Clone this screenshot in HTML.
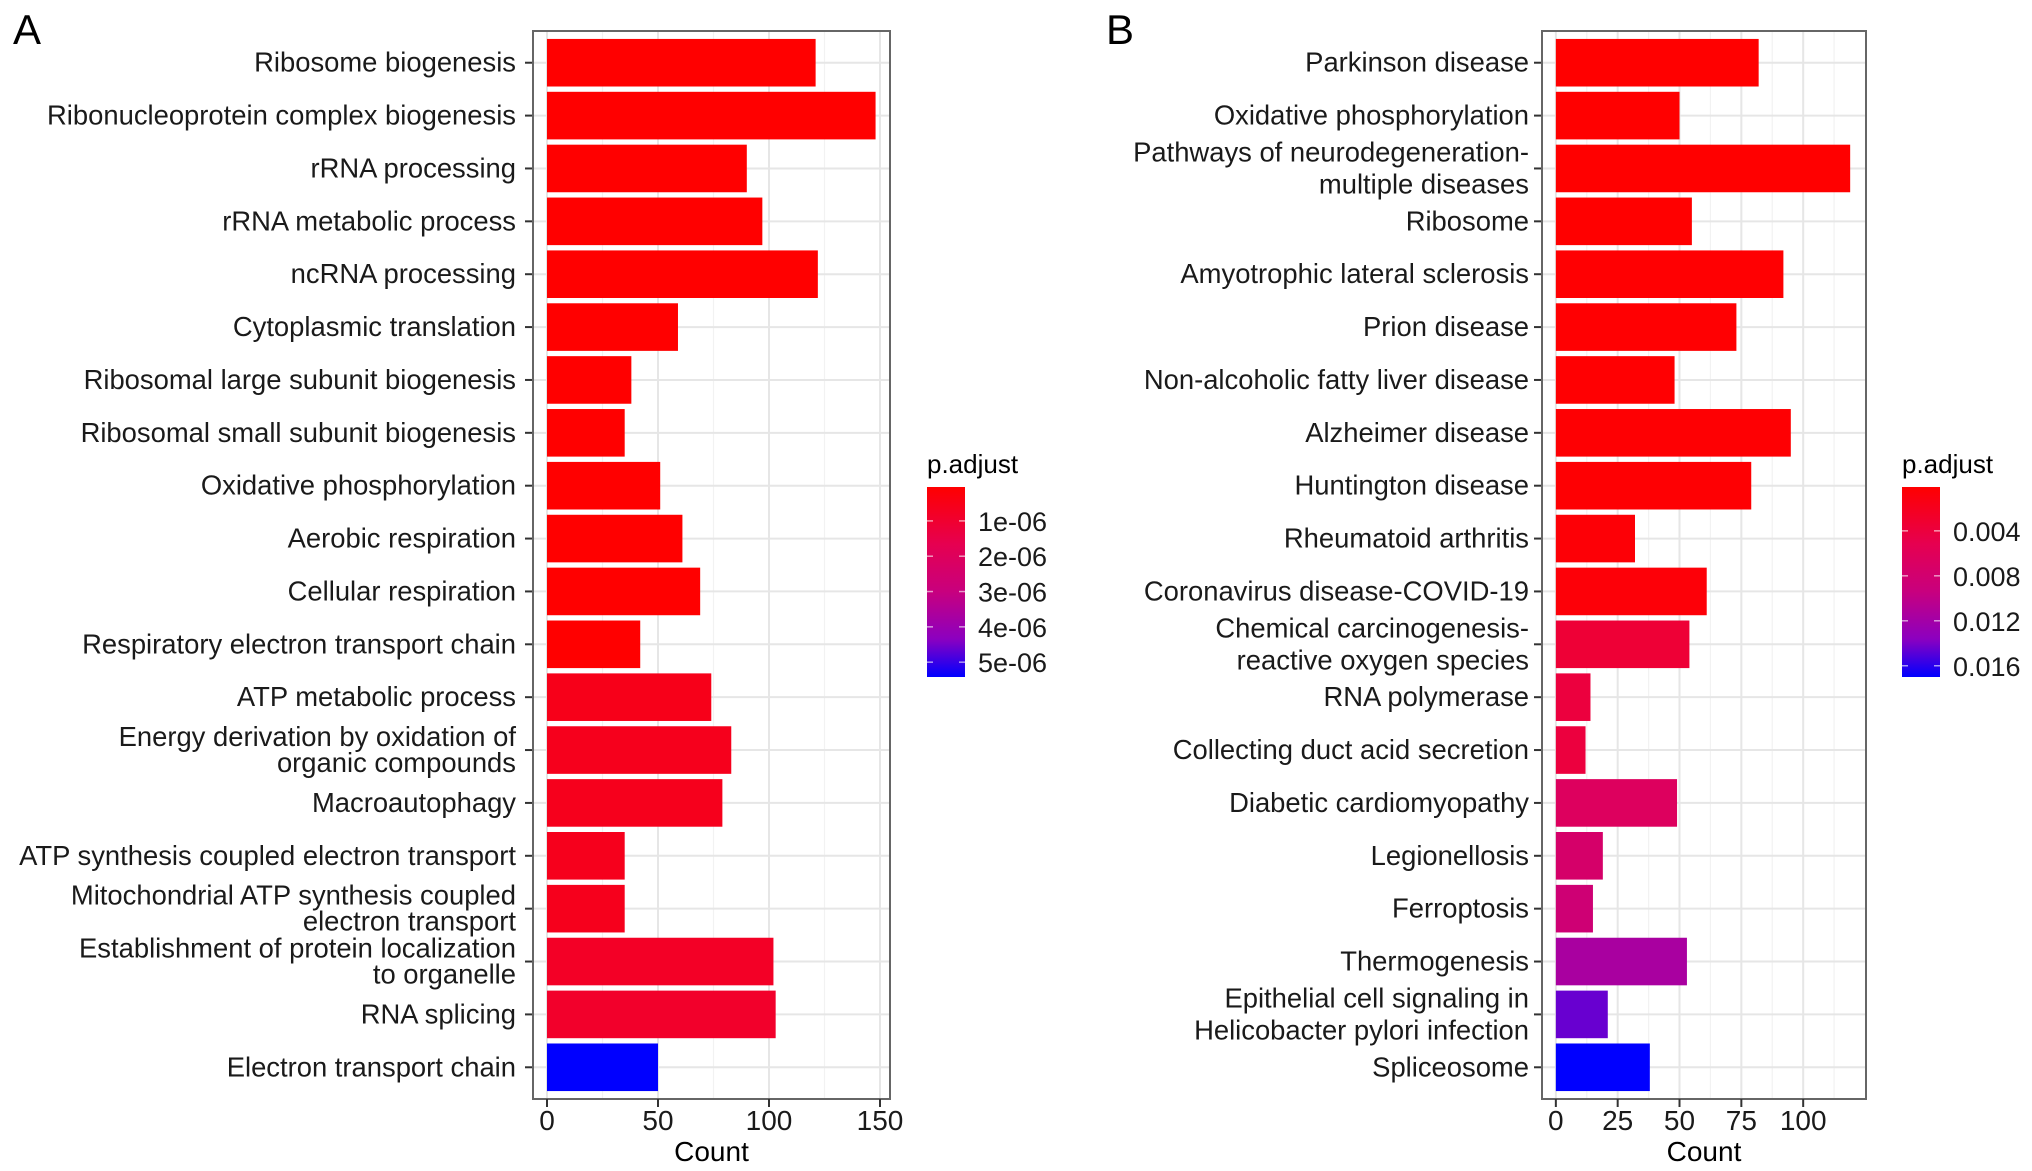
<!DOCTYPE html>
<html><head><meta charset="utf-8">
<style>
html,body{margin:0;padding:0;background:#fff;}
svg{display:block;font-family:"Liberation Sans",Arial,sans-serif;}
</style></head>
<body>
<svg id="chart" width="2032" height="1171" viewBox="0 0 2032 1171" xmlns="http://www.w3.org/2000/svg">
<defs>
<linearGradient id="gradA" x1="0" y1="0" x2="0" y2="1">
<stop offset="0" stop-color="#ff0000"/><stop offset="0.3" stop-color="#e60050"/><stop offset="0.55" stop-color="#c8007e"/><stop offset="0.8" stop-color="#8c00c0"/><stop offset="1" stop-color="#0000ff"/>
</linearGradient>
</defs>
<text x="13" y="44" font-size="42">A</text>
<text x="1106" y="44" font-size="42">B</text>
<g id="panelA"></g>
<g id="panelB"></g>
</svg>
<script>
// Panel A data
const catsA = ["Ribosome biogenesis","Ribonucleoprotein complex biogenesis","rRNA processing","rRNA metabolic process","ncRNA processing","Cytoplasmic translation","Ribosomal large subunit biogenesis","Ribosomal small subunit biogenesis","Oxidative phosphorylation","Aerobic respiration","Cellular respiration","Respiratory electron transport chain","ATP metabolic process","Energy derivation by oxidation of|organic compounds","Macroautophagy","ATP synthesis coupled electron transport","Mitochondrial ATP synthesis coupled|electron transport","Establishment of protein localization|to organelle","RNA splicing","Electron transport chain"];
const countsA = [121,148,90,97,122,59,38,35,51,61,69,42,74,83,79,35,35,102,103,50];
const padjA = [0.01e-6,0.01e-6,0.01e-6,0.02e-6,0.02e-6,0.02e-6,0.02e-6,0.02e-6,0.03e-6,0.03e-6,0.03e-6,0.04e-6,0.55e-6,0.6e-6,0.6e-6,0.6e-6,0.6e-6,0.8e-6,0.9e-6,5.42e-6];
const xTicksA = [0,50,100,150];
const legTicksA = [1e-6,2e-6,3e-6,4e-6,5e-6];
const legLabelsA = ["1e-06","2e-06","3e-06","4e-06","5e-06"];
// Panel B data
const catsB = ["Parkinson disease","Oxidative phosphorylation","Pathways of neurodegeneration-|multiple diseases","Ribosome","Amyotrophic lateral sclerosis","Prion disease","Non-alcoholic fatty liver disease","Alzheimer disease","Huntington disease","Rheumatoid arthritis","Coronavirus disease-COVID-19","Chemical carcinogenesis-|reactive oxygen species","RNA polymerase","Collecting duct acid secretion","Diabetic cardiomyopathy","Legionellosis","Ferroptosis","Thermogenesis","Epithelial cell signaling in|Helicobacter pylori infection","Spliceosome"];
const countsB = [82,50,119,55,92,73,48,95,79,32,61,54,14,12,49,19,15,53,21,38];
const padjB = [0.0001,0.0001,0.0001,0.0001,0.0002,0.0002,0.0002,0.0003,0.0003,0.0005,0.0006,0.0035,0.004,0.004,0.0065,0.0075,0.0085,0.0116,0.0145,0.017];
const xTicksB = [0,25,50,75,100];
const legTicksB = [0.004,0.008,0.012,0.016];
const legLabelsB = ["0.004","0.008","0.012","0.016"];

const NS="http://www.w3.org/2000/svg";
function mk(parent,tag,attrs){const e=document.createElementNS(NS,tag);for(const k in attrs)e.setAttribute(k,attrs[k]);parent.appendChild(e);return e;}
const stops=[[0,[255,0,0]],[0.3,[230,0,80]],[0.55,[200,0,126]],[0.8,[140,0,192]],[1,[0,0,255]]];
function col(t){t=Math.max(0,Math.min(1,t));for(let i=1;i<stops.length;i++){if(t<=stops[i][0]){const a=stops[i-1],b=stops[i];const f=(t-a[0])/(b[0]-a[0]);const c=a[1].map((v,j)=>Math.round(v+(b[1][j]-v)*f));return `rgb(${c[0]},${c[1]},${c[2]})`;}}return "rgb(0,0,255)";}

function panel(g,cfg){
  const {cats,counts,padj,xTicks,box,xmin,xmax,minorStep,lineGap,labelX,leg,legTicks,legLabels,pmin,pmax}=cfg;
  const xs=v=>box.l+(v-xmin)/(xmax-xmin)*(box.r-box.l);
  const n=cats.length;
  const step=(box.b-box.t)/(n-1+1.2);
  const ys=i=>box.t+step*0.6+i*step;
  mk(g,'rect',{x:box.l,y:box.t,width:box.r-box.l,height:box.b-box.t,fill:'#fff'});
  for(let v=xTicks[0]+minorStep/2; xs(v)<box.r; v+=minorStep){ if(xs(v)>box.l) mk(g,'line',{x1:xs(v),x2:xs(v),y1:box.t,y2:box.b,stroke:'#f2f2f2','stroke-width':1.2});}
  xTicks.forEach(v=>mk(g,'line',{x1:xs(v),x2:xs(v),y1:box.t,y2:box.b,stroke:'#e6e6e6','stroke-width':2}));
  cats.forEach((c,i)=>mk(g,'line',{x1:box.l,x2:box.r,y1:ys(i),y2:ys(i),stroke:'#e6e6e6','stroke-width':2}));
  cats.forEach((c,i)=>{
    const r=mk(g,'rect',{x:xs(0),y:ys(i)-step*0.45,width:xs(counts[i])-xs(0),height:step*0.9,fill:col((padj[i]-pmin)/(pmax-pmin))});
    
    
    mk(g,'line',{x1:box.l-8,x2:box.l,y1:ys(i),y2:ys(i),stroke:'#333','stroke-width':2});
    const lines=c.split('|');
    lines.forEach((ln,k)=>{
      const t=mk(g,'text',{x:labelX,y:ys(i)+9+(k-(lines.length-1)/2)*lineGap,'font-size':27.4,'text-anchor':'end',fill:'#1a1a1a'});
      t.textContent=ln;
      
      
    });
  });
  mk(g,'rect',{x:box.l,y:box.t,width:box.r-box.l,height:box.b-box.t,fill:'none',stroke:'#666','stroke-width':2});
  xTicks.forEach(v=>{
    mk(g,'line',{x1:xs(v),x2:xs(v),y1:box.b,y2:box.b+8,stroke:'#333','stroke-width':2});
    const t=mk(g,'text',{x:xs(v),y:box.b+31,'font-size':28,'text-anchor':'middle',fill:'#1a1a1a'});
    t.textContent=v;
    
    
  });
  const xt=mk(g,'text',{x:(box.l+box.r)/2,y:box.b+62,'font-size':28,'text-anchor':'middle',fill:'#000'});
  xt.textContent='Count';
  
  
  const lt=mk(g,'text',{x:leg.x,y:leg.y-14,'font-size':26,fill:'#000'});
  lt.textContent='p.adjust';
  
  
  const lb=mk(g,'rect',{x:leg.x,y:leg.y,width:38,height:leg.h,fill:'url(#gradA)'});
  
  
  const ly=p=>leg.y+(p-pmin)/(pmax-pmin)*leg.h;
  legTicks.forEach((p,i)=>{
    mk(g,'line',{x1:leg.x,x2:leg.x+6,y1:ly(p),y2:ly(p),stroke:'#fff','stroke-opacity':0.6,'stroke-width':1.5});
    mk(g,'line',{x1:leg.x+32,x2:leg.x+38,y1:ly(p),y2:ly(p),stroke:'#fff','stroke-opacity':0.6,'stroke-width':1.5});
    const t=mk(g,'text',{x:leg.x+51,y:ly(p)+10,'font-size':27,fill:'#1a1a1a'});
    t.textContent=legLabels[i];
    
    
  });
}
panel(document.getElementById('panelA'),{cats:catsA,counts:countsA,padj:padjA,xTicks:xTicksA,box:{l:533,r:890,t:31,b:1099},xmin:-6.3,xmax:154.5,minorStep:50,lineGap:26,labelX:516,leg:{x:927,y:487,h:190},legTicks:legTicksA,legLabels:legLabelsA,pmin:0.04e-6,pmax:5.42e-6});
panel(document.getElementById('panelB'),{cats:catsB,counts:countsB,padj:padjB,xTicks:xTicksB,box:{l:1542,r:1866,t:31,b:1099},xmin:-5.6,xmax:125.4,minorStep:25,lineGap:32,labelX:1529,leg:{x:1902,y:487,h:190},legTicks:legTicksB,legLabels:legLabelsB,pmin:0.0001,pmax:0.017});
</script>
</body></html>
